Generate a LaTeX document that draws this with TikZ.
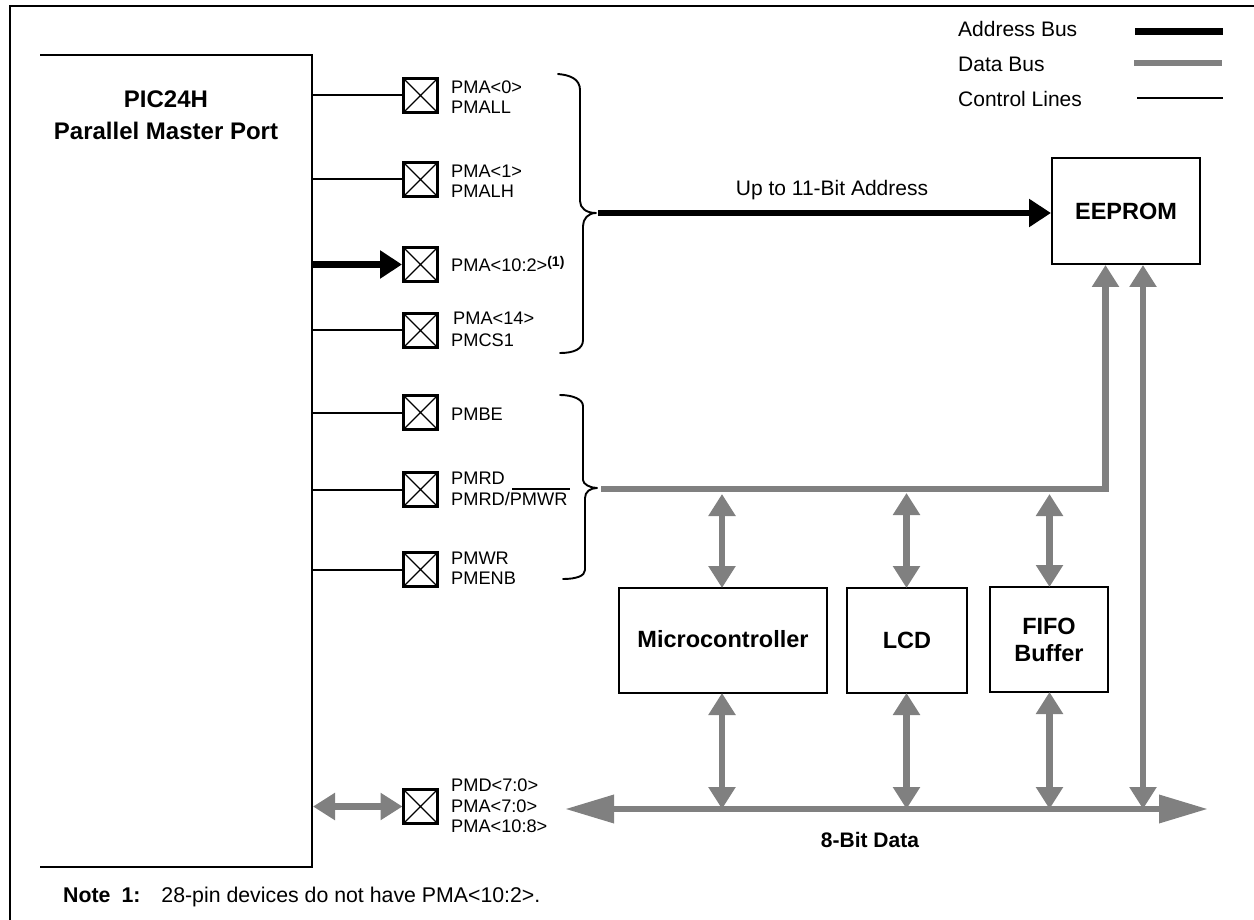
\documentclass[tikz,border=0pt]{standalone}
\usepackage{fontspec}
\setmainfont{Liberation Sans}
\usetikzlibrary{arrows.meta,calc}
\definecolor{busgray}{HTML}{808080}
\tikzset{
  x=1pt,y=-1pt,
  pad/.style={draw,line width=2.2pt,minimum size=34pt,inner sep=0pt,outer sep=0pt,
    path picture={\draw[line width=1.1pt] (path picture bounding box.south west)--(path picture bounding box.north east)
      (path picture bounding box.north west)--(path picture bounding box.south east);}},
  block/.style={draw,line width=2.2pt,inner sep=0pt,outer sep=0pt,align=center,font=\fontsize{23.5}{27}\selectfont\bfseries},
  ctrl/.style={line width=2pt},
  lbl/.style={anchor=west,inner sep=0pt,align=left,font=\fontsize{18.2}{20.5}\selectfont},
  legendtxt/.style={anchor=west,inner sep=0pt,font=\fontsize{21}{25}\selectfont},
  addr/.style={line width=6.5pt,-{Triangle[length=22pt,width=27pt]}},
  addrplain/.style={line width=7pt},
  data/.style={line width=6.7pt,draw=busgray},
  dbl/.style={data,{Triangle[length=22pt,width=26pt,color=busgray]}-{Triangle[length=22pt,width=26pt,color=busgray]}},
  brace/.style={line width=1.9pt,line cap=round,line join=round},
}
\begin{document}
\begin{tikzpicture}
\useasboundingbox (0,0) rectangle (1254,920);
\draw[line width=2.2pt] (1254,6) -- (10,6) -- (10,920);
% main block
\node[inner sep=0pt,outer sep=0pt,minimum width=272pt,minimum height=812pt,anchor=north west] (mcu) at (40,55) {};
\draw[line width=2.2pt] (mcu.north west)--(mcu.north east)--(mcu.south east)--(mcu.south west);
\node[align=center,inner sep=0pt,font=\fontsize{24}{32}\selectfont\bfseries] (mcutitle) at (166,115) {PIC24H\\Parallel Master Port};
% pads
\node[pad] (p0) at (420.5,95.5) {};
\node[pad] (p1) at (420.5,179.5) {};
\node[pad] (p2) at (420.5,264.5) {};
\node[pad] (p3) at (420.5,330.5) {};
\node[pad] (p4) at (420.5,412.5) {};
\node[pad] (p5) at (420.5,489.5) {};
\node[pad] (p6) at (420.5,569.5) {};
\node[pad] (p7) at (420.5,806.5) {};
\draw[ctrl] (mcu.east |- p0.west) -- (p0.west);
\draw[ctrl] (mcu.east |- p1.west) -- (p1.west);
\draw[addr,shorten >=1.5pt] (mcu.east |- p2.west) -- (p2.west);
\draw[ctrl] (mcu.east |- p3.west) -- (p3.west);
\draw[ctrl] (mcu.east |- p4.west) -- (p4.west);
\draw[ctrl] (mcu.east |- p5.west) -- (p5.west);
\draw[ctrl] (mcu.east |- p6.west) -- (p6.west);
\draw[dbl,shorten >=1pt,shorten <=1pt] (mcu.east |- p7.west) -- (p7.west);
% labels
\node[lbl] (l0) at (451,97) {PMA<0>\\PMALL};
\node[lbl] (l1) at (451,181) {PMA<1>\\PMALH};
\node[lbl] (l2) at (451,264) {PMA<10:2>\raisebox{5.5pt}{\bfseries\fontsize{14}{14}\selectfont (1)}};
\node[lbl] (l3a) at (453,318) {PMA<14>};
\node[lbl] (l3b) at (451,340) {PMCS1};
\node[lbl] (l4) at (451,414) {PMBE};
\node[lbl] (l5) at (451,489) {PMRD\\PMRD/PMWR};
\coordinate (ob1) at (512,489);
\coordinate (ob2) at (570,489);
\draw[line width=1.4pt] (ob1) -- (ob2);
\node[lbl] (l6) at (451,568) {PMWR\\PMENB};
\node[lbl] (l7) at (451,806) {PMD<7:0>\\PMA<7:0>\\PMA<10:8>};
% braces
\coordinate (b1tip) at (596,213);
\coordinate (b2tip) at (597,488);
\draw[brace] (558,74) .. controls (570,75) and (580,79) .. (580,90) -- (580,201) .. controls (580,208) and (586,213) .. (b1tip)
  .. controls (588,213) and (583,219) .. (583,226) -- (583,340) .. controls (583,349) and (574,353) .. (560,353);
\draw[brace] (560,395) .. controls (572,395) and (583,399) .. (583,406) -- (583,480) .. controls (583,484) and (590,488) .. (b2tip)
  .. controls (590,488) and (585,492) .. (585,498) -- (585,570) .. controls (585,576) and (576,579) .. (563,579);
% blocks
\node[block,minimum width=148pt,minimum height=106pt] (eeprom) at (1126,211) {\raisebox{-2pt}{EEPROM}};
\node[block,minimum width=208pt,minimum height=105pt] (micro) at (723,640.5) {\raisebox{2.5pt}{Microcontroller}};
\node[block,minimum width=120pt,minimum height=105pt] (lcd) at (907,640.5) {\raisebox{-1pt}{LCD}};
\node[block,minimum width=118pt,minimum height=105pt] (fifo) at (1049,639.5) {FIFO\\Buffer};
% address
\coordinate (addrstart) at (598,213);
\node[inner sep=0pt,font=\fontsize{21}{25}\selectfont] (addrlabel) at (832,190) {Up to 11-Bit Address};
\draw[addr,shorten >=1pt] (addrstart) -- (eeprom.west |- addrstart);
% data buses
\coordinate (datastart) at (601,489);
\coordinate (dataturn) at (1105.5,489);
\coordinate (e1) at (1105.5,265);
\draw[data,-{Triangle[length=22pt,width=26pt,color=busgray]}] (datastart) -- (dataturn) -- (e1);
\coordinate (busl) at (565,809);
\coordinate (busr) at (1208,809);
\draw[data,{Triangle[length=49pt,width=27pt,color=busgray]}-{Triangle[length=49pt,width=27pt,color=busgray]}] (busl) -- (busr);
\coordinate (e2) at (1143,265);
\draw[dbl] (e2) -- (e2 |- busr);
\coordinate (mt) at (722,494);\coordinate (lt) at (906.5,493);\coordinate (ft) at (1049.5,494);
\draw[dbl] (mt) -- (mt |- micro.north);
\draw[dbl] (lt) -- (lt |- lcd.north);
\draw[dbl] (ft) -- (ft |- fifo.north);
\draw[dbl] (mt |- micro.south) -- (mt |- busr);
\draw[dbl] (lt |- lcd.south) -- (lt |- busr);
\draw[dbl] (ft |- fifo.south) -- (ft |- busr);
\node[inner sep=0pt,font=\fontsize{21}{25}\selectfont\bfseries] (buslabel) at (870,840) {8-Bit Data};
% legend
\node[legendtxt] (la) at (958,29) {Address Bus};
\node[legendtxt] (ld) at (958,64) {Data Bus};
\node[legendtxt] (lc) at (958,98.5) {Control Lines};
\coordinate (a1) at (1135,31.5);\coordinate (a2) at (1223,31.5);
\coordinate (d1) at (1134,63);\coordinate (d2) at (1222,63);
\coordinate (c1) at (1137,98);\coordinate (c2) at (1223,98);
\draw[addrplain] (a1)--(a2);
\draw[data] (d1)--(d2);
\draw[ctrl] (c1)--(c2);
% note
\node[inner sep=0pt,anchor=west,font=\fontsize{21.3}{25}\selectfont] (note) at (63,897) {\textbf{Note\hspace{11pt}1:}\hspace{21pt}28-pin devices do not have PMA<10:2>.};
\end{tikzpicture}
\end{document}
